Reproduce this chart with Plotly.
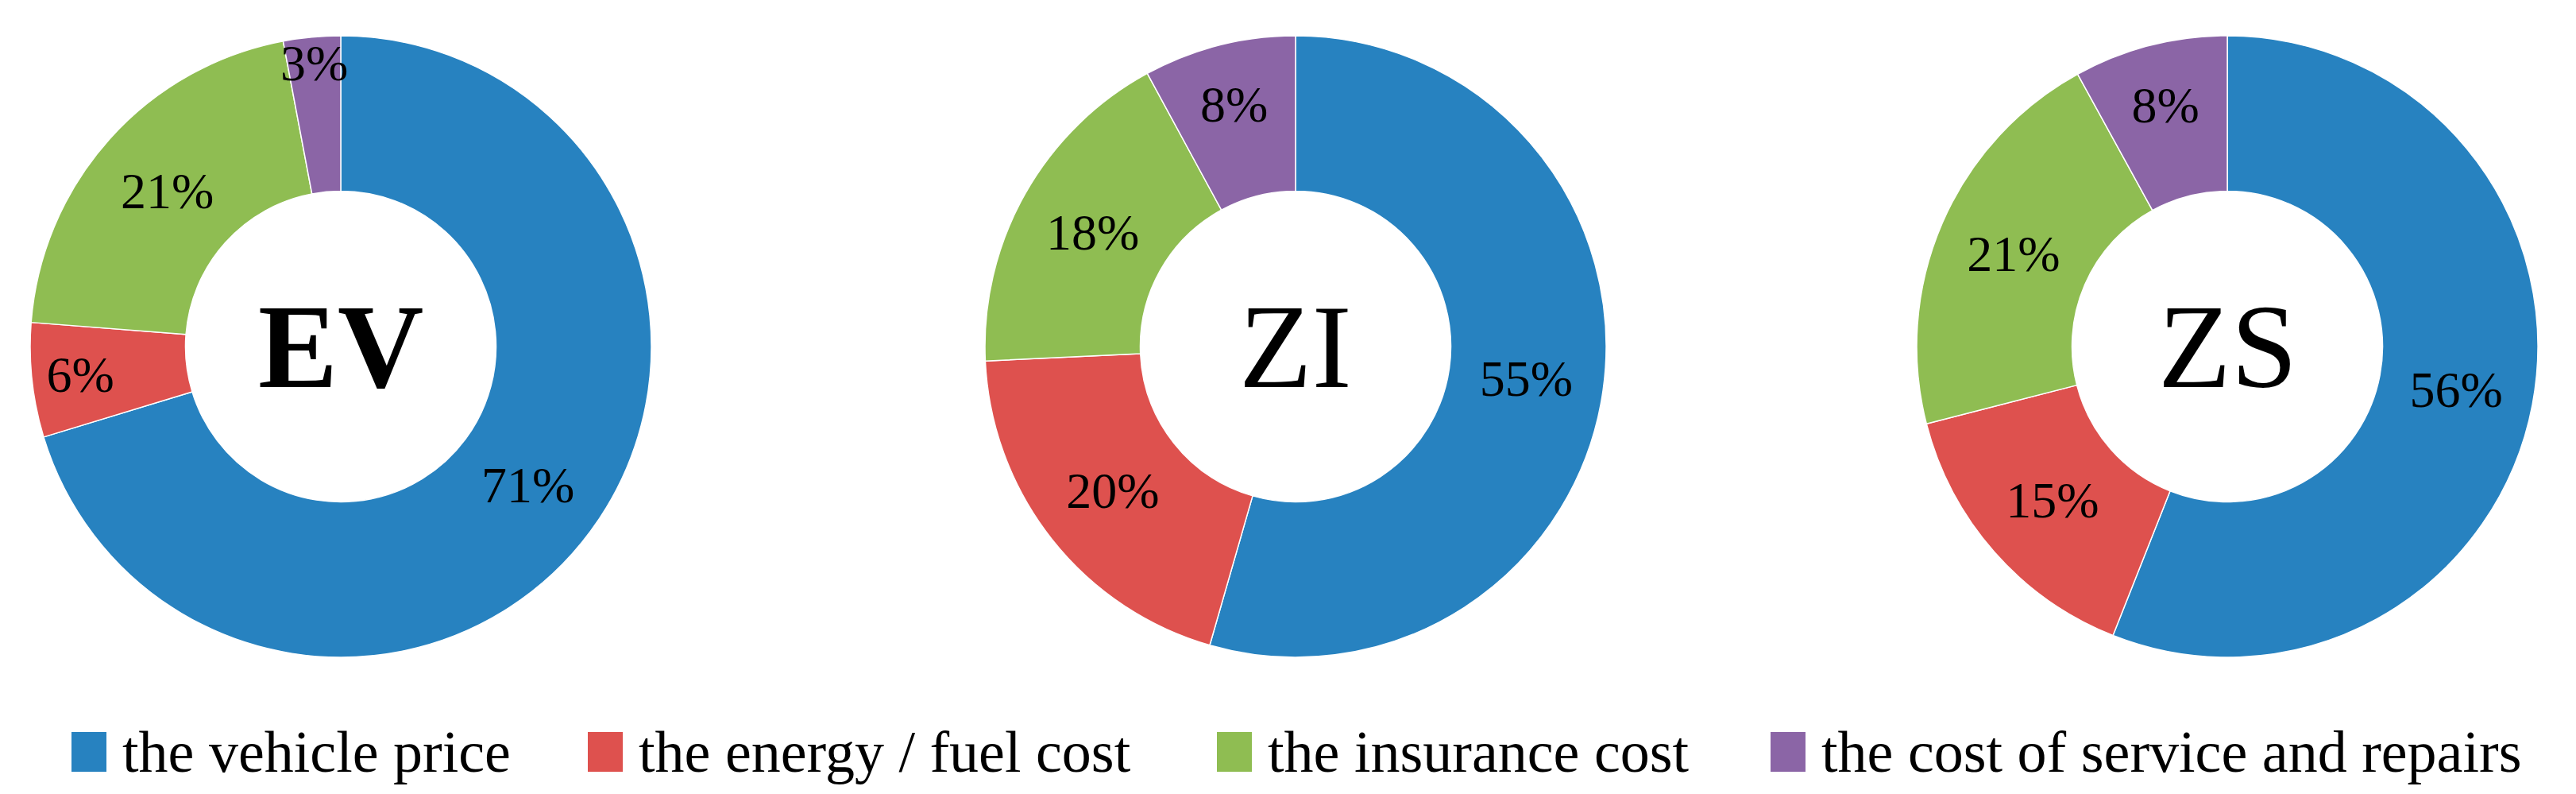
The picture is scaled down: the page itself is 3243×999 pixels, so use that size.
import plotly.graph_objects as go

# Cost shares (%) for each vehicle type
categories = ['the vehicle price', 'the energy / fuel cost', 'the insurance cost',
              'the cost of service and repairs']
colors = ['#2782C0', '#DE514E', '#8FBD52', '#8B65A6']
chart_names = ['EV', 'ZI', 'ZS']
ev_values = [71, 6, 21, 3]
zi_values = [55, 20, 18, 8]
zs_values = [56, 15, 21, 8]

W, H = 3243, 999
FONT = 'Liberation Serif'

fig = go.Figure()

# pie centres in pixels, common radius
centres = [421, 1623, 2796]
cy, r = 428, 391
series = [ev_values, zi_values, zs_values]

for name, vals, cx in zip(chart_names, series, centres):
    fig.add_trace(go.Pie(
        labels=categories, values=vals, name=name,
        hole=0.5, sort=False, direction='clockwise', rotation=0,
        marker=dict(colors=colors, line=dict(color='white', width=1.5)),
        texttemplate='%{value}%', textposition='inside',
        insidetextorientation='horizontal',
        textfont=dict(family=FONT, size=64, color='black'),
        domain=dict(x=[(cx - r) / W, (cx + r) / W], y=[(H - cy - r) / H, (H - cy + r) / H]),
        showlegend=False, hoverinfo='label+value',
    ))
    fig.add_annotation(x=cx / W, y=(H - cy) / H, xref='paper', yref='paper',
                       text=name, showarrow=False, xanchor='center', yanchor='middle',
                       font=dict(family=FONT, size=150, color='black',
                                 weight='bold' if name == 'EV' else 'normal'))

# custom legend with large squares
legend_x = [82, 732, 1524, 2221]
for cat, col, lx in zip(categories, colors, legend_x):
    fig.add_shape(type='rect', xref='paper', yref='paper',
                  x0=lx / W, x1=(lx + 44) / W, y0=(H - 963) / H, y1=(H - 913) / H,
                  fillcolor=col, line=dict(width=0))
    fig.add_annotation(x=(lx + 62) / W, y=(H - 938) / H, xref='paper', yref='paper',
                       text=cat, showarrow=False, xanchor='left', yanchor='middle',
                       font=dict(family=FONT, size=74, color='black'))

fig.update_layout(
    width=W, height=H,
    margin=dict(l=0, r=0, t=0, b=0),
    paper_bgcolor='white', plot_bgcolor='white',
    uniformtext=dict(minsize=64, mode='show'),
)

fig.write_html('out.html')
